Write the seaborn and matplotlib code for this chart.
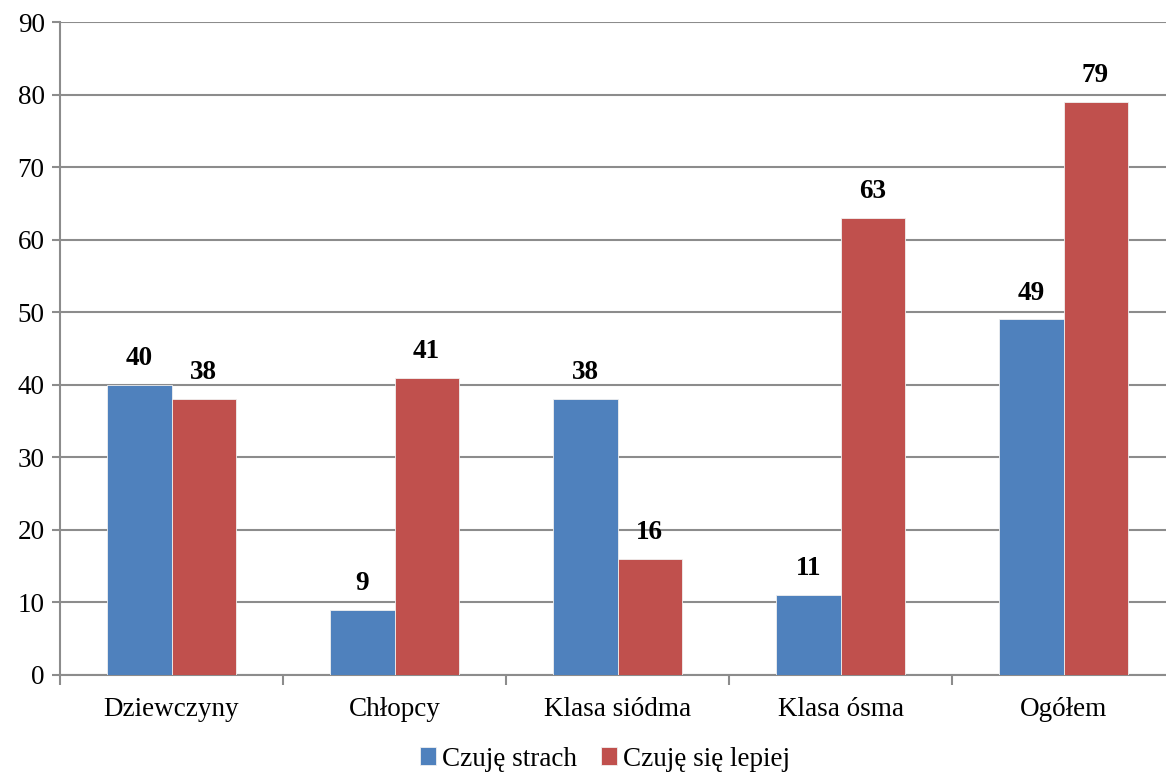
import matplotlib
matplotlib.use("Agg")
import matplotlib.pyplot as plt
import seaborn as sns
import pandas as pd

categories = ["Dziewczyny", "Chłopcy", "Klasa siódma", "Klasa ósma", "Ogółem"]
series_names = ["Czuję strach", "Czuję się lepiej"]
strach = [40, 9, 38, 11, 49]
lepiej = [38, 41, 16, 63, 79]
colors = ["#4F81BD", "#C0504D"]

df = pd.DataFrame({
    "kategoria": categories * 2,
    "seria": [series_names[0]] * len(categories) + [series_names[1]] * len(categories),
    "wartosc": strach + lepiej,
})

sns.set_style("white")
plt.rcParams["font.family"] = ["Liberation Serif", "DejaVu Serif"]
plt.rcParams["text.color"] = "black"
plt.rcParams["xtick.color"] = "black"
plt.rcParams["ytick.color"] = "black"

W, H = 1166, 774
fig = plt.figure(figsize=(W / 100, H / 100), dpi=100)
ax = fig.add_axes([60 / W, 1 - 675 / H, 1115 / W, (675 - 22) / H])

sns.barplot(data=df, x="kategoria", y="wartosc", hue="seria", palette=colors,
            width=0.574, ax=ax, saturation=1, edgecolor="#F0F0F0", linewidth=0.6,
            zorder=3)

ax.set_ylim(0, 90)
ax.set_xlim(-0.5, 4.5)
ax.set_yticks(range(0, 91, 10))
ax.yaxis.grid(True, color="#8C8C8C", linewidth=1.5, zorder=0)
ax.set_axisbelow(True)
ax.set_xlabel("")
ax.set_ylabel("")

for s in ["top", "right"]:
    ax.spines[s].set_visible(False)
for s in ["left", "bottom"]:
    ax.spines[s].set_color("#8C8C8C")
    ax.spines[s].set_linewidth(1.5)

ax.tick_params(axis="y", direction="out", length=6, width=1.5, color="#8C8C8C",
               labelsize=19.5, labelcolor="black", pad=5, left=True)
ax.set_xticks(range(len(categories)))
ax.set_xticklabels(categories)
ax.tick_params(axis="x", which="major", length=0, labelsize=19.5, labelcolor="black", pad=16)
ax.set_xticks([i - 0.5 for i in range(len(categories) + 1)], minor=True)
ax.tick_params(axis="x", which="minor", direction="out", length=7, width=1.5,
               color="#8C8C8C", bottom=True)

for cont in ax.containers:
    ax.bar_label(cont, labels=[f"{int(v)}" for v in cont.datavalues], padding=10,
                 fontsize=19.5, fontweight="bold", color="black")

handles, labels = ax.get_legend_handles_labels()
ax.legend(handles, labels, loc="center", bbox_to_anchor=(605 / W, 1 - 759 / H),
          bbox_transform=fig.transFigure,
          ncol=2, frameon=False, fontsize=19.5, handlelength=0.6, handleheight=0.6,
          handletextpad=0.2, columnspacing=0.9, labelcolor="black")

fig.savefig("out.png", dpi=100)
